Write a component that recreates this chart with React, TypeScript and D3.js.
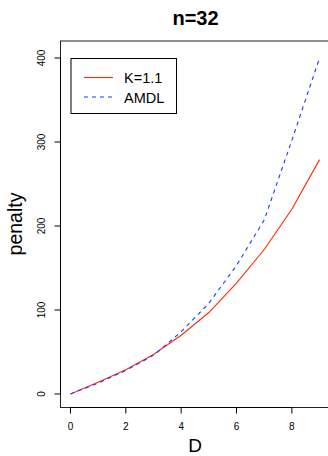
import * as d3 from "d3";

const dValues = [0, 1, 2, 3, 4, 5, 6, 7, 8, 9];
const kPenalty = [0, 14, 29, 47, 70, 97, 132, 172, 220, 279];
const amdlPenalty = [0, 13, 28, 46, 74, 108, 153, 207, 302, 400];
const xTicks = [0, 2, 4, 6, 8];
const yTicks = [0, 100, 200, 300, 400];

const W = 328;
const H = 456;
const box = { left: 60.5, right: 329.5, top: 41, bottom: 407.5 };
const font = "Liberation Sans, Arial, Helvetica, sans-serif";

export default function App() {
  const x = d3.scaleLinear().domain([-0.36, 9.36]).range([box.left, box.right]);
  const y = d3.scaleLinear().domain([0, 400]).range([394, 58]);

  const line = d3
    .line<number>()
    .x((_, i) => x(dValues[i]))
    .y((v) => y(v));

  return (
    <svg
      width={W}
      height={H}
      style={{ position: "absolute", left: 0, top: 0, background: "#fff" }}
      fontFamily={font}
    >
      {/* title */}
      <text x={195.5} y={24.5} textAnchor="middle" fontSize={20} fontWeight="bold">
        n=32
      </text>

      {/* plot box (right side is cut off by the window) */}
      <rect
        x={box.left}
        y={box.top}
        width={box.right - box.left}
        height={box.bottom - box.top}
        fill="none"
        stroke="#222"
        strokeWidth={1}
      />

      {/* series */}
      <path d={line(kPenalty) ?? ""} fill="none" stroke="#ff2a00" strokeWidth={1.1} />
      <path
        d={line(amdlPenalty) ?? ""}
        fill="none"
        stroke="#1a3dff"
        strokeWidth={1.1}
        strokeDasharray="4,4"
      />

      {/* x axis */}
      <line x1={x(0)} x2={x(8)} y1={box.bottom} y2={box.bottom} stroke="#000" />
      {xTicks.map((t) => (
        <g key={t}>
          <line x1={x(t)} x2={x(t)} y1={box.bottom} y2={box.bottom + 6} stroke="#000" />
          <text x={x(t)} y={430} textAnchor="middle" fontSize={10}>
            {t}
          </text>
        </g>
      ))}
      <text x={195} y={452} textAnchor="middle" fontSize={19}>
        D
      </text>

      {/* y axis */}
      <line x1={box.left} x2={box.left} y1={y(0)} y2={y(400)} stroke="#000" />
      {yTicks.map((t) => (
        <g key={t}>
          <line x1={box.left - 6} x2={box.left} y1={y(t)} y2={y(t)} stroke="#000" />
          <text
            x={44.5}
            y={y(t)}
            transform={`rotate(-90, 44.5, ${y(t)})`}
            textAnchor="middle"
            fontSize={10}
          >
            {t}
          </text>
        </g>
      ))}
      <text
        x={22}
        y={224}
        transform="rotate(-90, 22, 224)"
        textAnchor="middle"
        fontSize={19.5}
      >
        penalty
      </text>

      {/* legend */}
      <rect x={71} y={58.5} width={105.5} height={55} fill="#fff" stroke="#000" />
      <line x1={84} x2={113} y1={77.5} y2={77.5} stroke="#ff2a00" strokeWidth={1.1} />
      <line
        x1={84}
        x2={113}
        y1={97}
        y2={97}
        stroke="#1a3dff"
        strokeWidth={1.1}
        strokeDasharray="4,4"
      />
      <text x={124} y={83} fontSize={14.5}>
        K=1.1
      </text>
      <text x={124} y={103} fontSize={14.5}>
        AMDL
      </text>
    </svg>
  );
}
